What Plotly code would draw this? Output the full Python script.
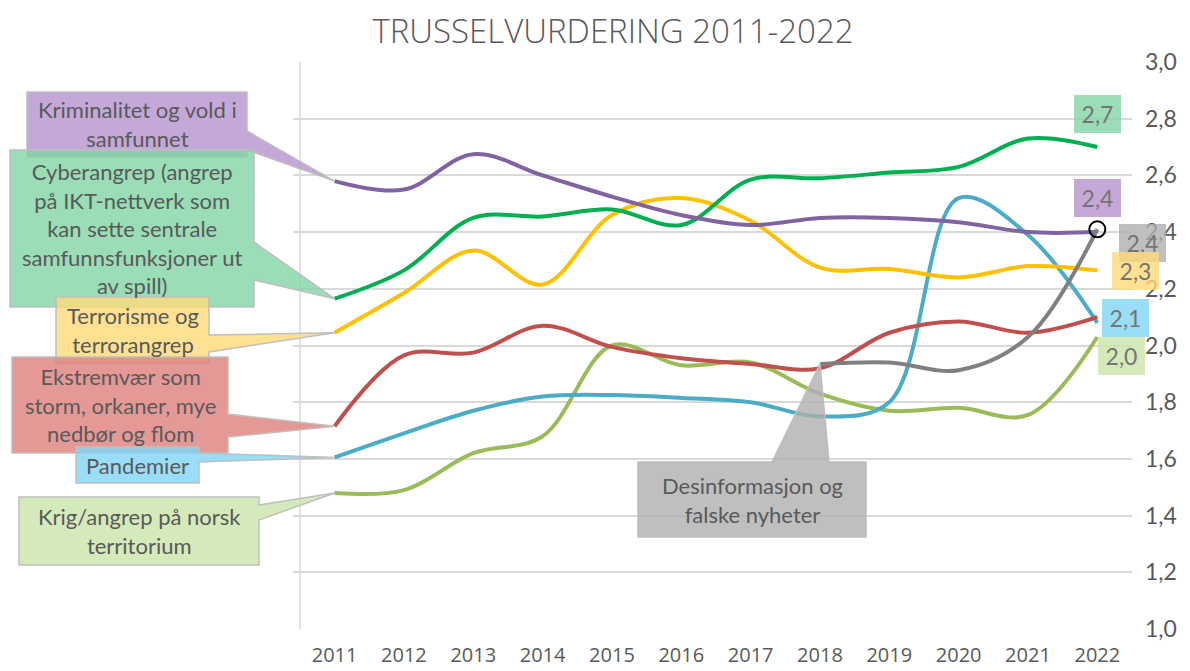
import plotly.graph_objects as go

years = ["2011", "2012", "2013", "2014", "2015", "2016", "2017", "2018", "2019", "2020", "2021", "2022"]
krim = [2.58, 2.55, 2.675, 2.60, 2.525, 2.46, 2.425, 2.45, 2.45, 2.435, 2.40, 2.40]
cyber = [2.165, 2.265, 2.45, 2.455, 2.48, 2.425, 2.585, 2.59, 2.61, 2.63, 2.73, 2.70]
terror = [2.045, 2.185, 2.335, 2.215, 2.46, 2.52, 2.44, 2.275, 2.27, 2.24, 2.28, 2.265]
ekstrem = [1.715, 1.965, 1.975, 2.07, 1.995, 1.955, 1.935, 1.92, 2.045, 2.085, 2.045, 2.10]
pandemi = [1.605, 1.69, 1.77, 1.82, 1.825, 1.815, 1.80, 1.75, 1.80, 2.52, 2.39, 2.08]
desinfo = [None, None, None, None, None, None, None, 1.935, 1.94, 1.913, 2.03, 2.41]
krig = [1.48, 1.49, 1.62, 1.68, 2.0, 1.93, 1.94, 1.83, 1.77, 1.78, 1.755, 2.03]

labels = {
    "krim": "Kriminalitet og vold i<br>samfunnet",
    "cyber": "Cyberangrep (angrep<br>på IKT-nettverk som<br>kan sette sentrale<br>samfunnsfunksjoner ut<br>av spill)",
    "terror": "Terrorisme og<br>terrorangrep",
    "ekstrem": "Ekstremvær som<br>storm, orkaner, mye<br>nedbør og flom",
    "pandemi": "Pandemier",
    "krig": "Krig/angrep på norsk<br>territorium",
    "desinfo": "Desinformasjon og<br>falske nyheter",
}

# page has an 8px body margin: figure pixel = page pixel - OFF
OFF = 8
W, H = 1190 - OFF, 671 - OFF
PL, PR, PT, PB = 293 - OFF, 1132 - OFF, 62 - OFF, 629 - OFF
XR = [-0.6, 11.5]
YR = [1.0, 3.0]
FONT = "Lato"
TXT = "#595959"

line_col = {"krim": "#8064A2", "cyber": "#00B050", "terror": "#FFC000", "ekstrem": "#C0504D",
            "pandemi": "#4BACC6", "desinfo": "#808080", "krig": "#9BBB59"}
fill_col = {"krim": "rgba(181,146,206,0.8)", "cyber": "rgba(129,212,165,0.8)",
            "terror": "rgba(255,217,121,0.8)", "ekstrem": "rgba(222,127,125,0.8)",
            "pandemi": "rgba(128,212,245,0.8)", "desinfo": "rgba(175,175,175,0.8)",
            "krig": "rgba(202,229,170,0.8)"}
series = {"krim": krim, "cyber": cyber, "terror": terror, "ekstrem": ekstrem,
          "pandemi": pandemi, "desinfo": desinfo, "krig": krig}

def px(x):  # page pixel x -> paper
    return (x - OFF - PL) / (PR - PL)

def py(y):  # page pixel y -> paper
    return (PB - (y - OFF)) / (PB - PT)

def dx(i):
    return (i - XR[0]) / (XR[1] - XR[0])

def dy(v):
    return (v - YR[0]) / (YR[1] - YR[0])

xs = list(range(len(years)))
fig = go.Figure()
for key in ["krig", "pandemi", "ekstrem", "terror", "cyber", "krim", "desinfo"]:
    fig.add_trace(go.Scatter(x=xs, y=series[key], mode="lines", connectgaps=False,
                             line=dict(color=line_col[key], width=4, shape="spline", smoothing=1.0),
                             hoverinfo="skip", showlegend=False))
fig.add_trace(go.Scatter(x=[xs[-1]], y=[desinfo[-1]], mode="markers",
                         marker=dict(symbol="circle-open", size=16, color="black", line=dict(width=2)),
                         hoverinfo="skip", showlegend=False))

shapes = []
shapes.append(dict(type="line", xref="paper", yref="paper", x0=px(300), x1=px(300), y0=0, y1=1,
                   line=dict(color="#D9D9D9", width=1.5), layer="below"))

# callouts in page pixels: box (l,t,r,b), wedge base on right side (y0,y1) or top (x0,x1)
callouts = [
    ("krim", (27, 92, 247, 157), ("right", 131, 150), 0),
    ("cyber", (10, 150, 254, 307), ("right", 242, 280), 0),
    ("terror", (56, 297, 209, 363), ("right", 335, 352), 0),
    ("ekstrem", (12, 357, 228, 453), ("right", 414, 437), 0),
    ("pandemi", (76, 447, 199, 483), ("right", 453, 462), 0),
    ("krig", (19, 497, 259, 565), ("right", 505, 520), 0),
    ("desinfo", (638, 462, 866, 537), ("top", 772, 829), 7),
]
annotations = []
for key, (l, t, r, b), (side, a, c), idx in callouts:
    ax, ay = dx(idx), dy(series[key][idx])
    L, T, R, B = px(l), py(t), px(r), py(b)
    if side == "right":
        path = (f"M {L},{T} L {R},{T} L {R},{py(a)} L {ax},{ay} L {R},{py(c)} "
                f"L {R},{B} L {L},{B} Z")
    else:
        path = (f"M {L},{T} L {px(a)},{T} L {ax},{ay} L {px(c)},{T} L {R},{T} "
                f"L {R},{B} L {L},{B} Z")
    shapes.append(dict(type="path", xref="paper", yref="paper", path=path,
                       fillcolor=fill_col[key], line=dict(color="#BFBFBF", width=1.5), layer="above"))
    annotations.append(dict(xref="paper", yref="paper", x=px((l + r) / 2), y=py((t + b) / 2),
                            text=labels[key], showarrow=False, xanchor="center", yanchor="middle",
                            align="center", font=dict(family=FONT, size=22, color=TXT)))

val_boxes = [
    ("cyber", (1097.5, 114)),
    ("krim", (1097.5, 198)),
    ("desinfo", (1142.5, 243)),
    ("terror", (1135.5, 271)),
    ("pandemi", (1125.5, 318.5)),
    ("krig", (1121.5, 355.5)),
]
for key, (cx, cy) in val_boxes:
    v = series[key][-1]
    annotations.append(dict(xref="paper", yref="paper", x=px(cx), y=py(cy),
                            text=f"{v:.1f}".replace(".", ","), showarrow=False,
                            xanchor="center", yanchor="middle", width=47, height=38,
                            bgcolor=fill_col[key], borderpad=0, borderwidth=0,
                            font=dict(family=FONT, size=23, color="#757575")))

fig.update_layout(
    width=W, height=H,
    margin=dict(l=PL, r=W - PR, t=PT, b=H - PB, pad=0, autoexpand=False),
    paper_bgcolor="white", plot_bgcolor="white",
    separators=", ",
    title=dict(text="TRUSSELVURDERING 2011-2022", x=(613 - OFF) / W, xanchor="center", xref="container",
               y=1 - 23 / H, yanchor="middle", yref="container", automargin=False,
               font=dict(family="Open Sans", size=33, color=TXT, weight=300)),
    xaxis=dict(range=XR, tickvals=xs, ticktext=years, showgrid=False, zeroline=False,
               showline=False, ticks="", ticklabelstandoff=12, automargin=False,
               tickfont=dict(family="Open Sans", size=20, color=TXT), fixedrange=True),
    yaxis=dict(range=YR, side="right", dtick=0.2, tick0=1.0, tickformat=".1f",
               showgrid=True, gridcolor="#D9D9D9", gridwidth=1.5, zeroline=False,
               showline=False, ticks="", ticklabelstandoff=12, automargin=False,
               tickfont=dict(family=FONT, size=23, color=TXT), fixedrange=True),
    shapes=shapes, annotations=annotations,
)
fig.write_html("out.html")
